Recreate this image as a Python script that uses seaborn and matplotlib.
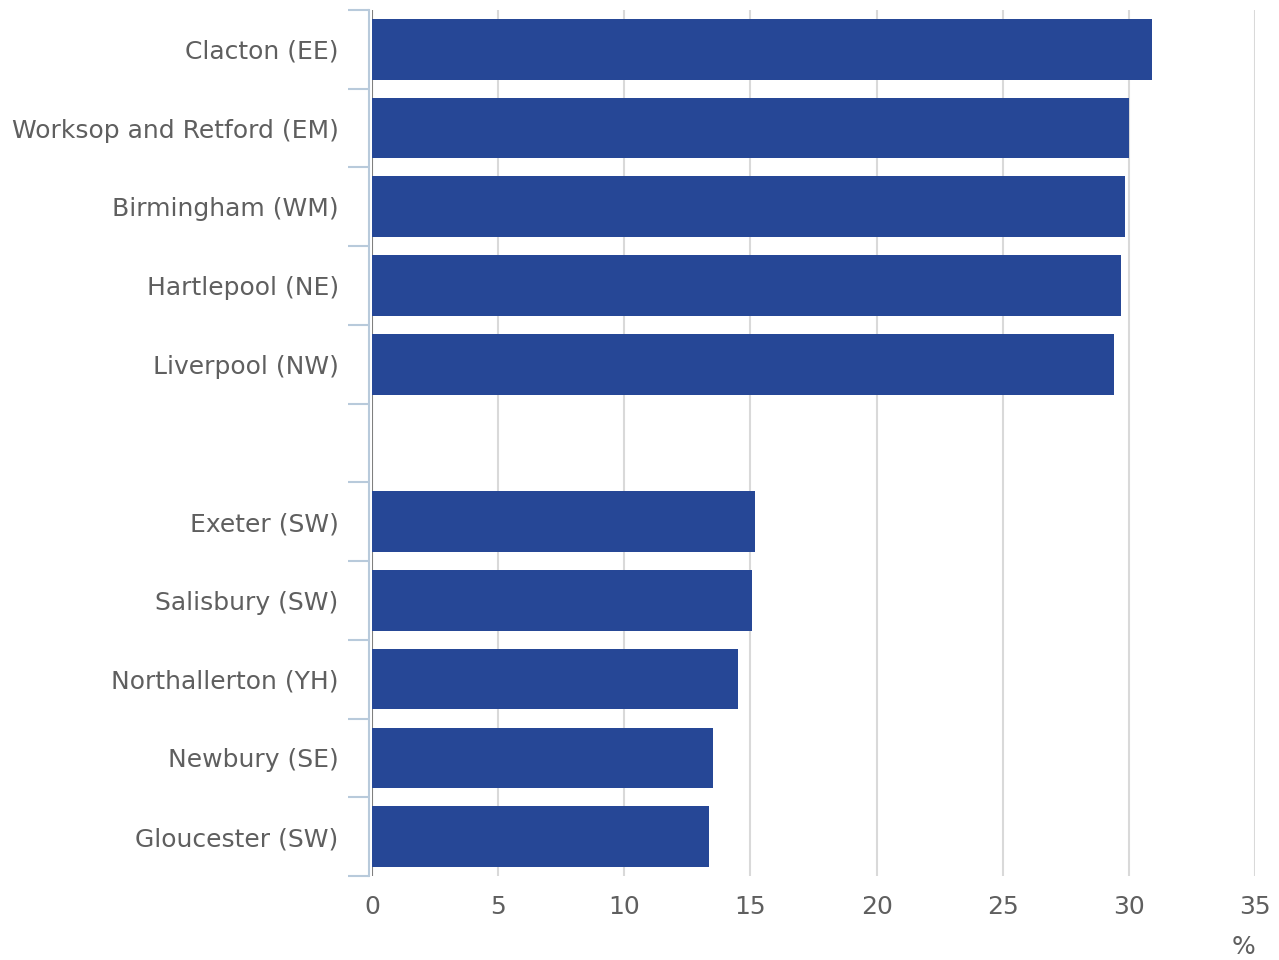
import numpy as np
import pandas as pd
import matplotlib
matplotlib.use("Agg")
import matplotlib.pyplot as plt
import seaborn as sns
from matplotlib.ticker import FixedLocator

# constituencies, top five then bottom five, with a blank slot between them
places = ['Clacton (EE)', 'Worksop and Retford (EM)', 'Birmingham (WM)',
          'Hartlepool (NE)', 'Liverpool (NW)', ' ',
          'Exeter (SW)', 'Salisbury (SW)', 'Northallerton (YH)',
          'Newbury (SE)', 'Gloucester (SW)']
values = [30.9, 30.0, 29.85, 29.7, 29.4, np.nan,
          15.2, 15.05, 14.5, 13.5, 13.35]
x_ticks = [0, 5, 10, 15, 20, 25, 30, 35]

sns.set_style('white')
plt.rcParams['font.family'] = ['DejaVu Sans']

df = pd.DataFrame({'place': places, 'value': values})

fig = plt.figure(figsize=(12.79, 9.6), dpi=100)
ax = fig.add_axes([0.2909, 0.0875, 0.6903, 0.9021])

text_col = '#5f5f5f'
blue_grey = '#b8cadb'
fs = 18

for x in x_ticks[1:]:
    ax.axvline(x, color='#d9d9d9', lw=1.5, zorder=0)
ax.axvline(0, color='#7f7f7f', lw=1.5, zorder=0)

sns.barplot(data=df, x='value', y='place', order=places, orient='h',
            color='#264796', saturation=1, width=0.77, ax=ax, zorder=2,
            edgecolor='none')

ax.set_xlim(0, 35)
ax.set_ylim(len(places) - 0.5, -0.5)
ax.set_xticks(x_ticks)
ax.set_xticklabels([str(x) for x in x_ticks])
ax.set_xlabel('')
ax.set_ylabel('')

ax.yaxis.set_minor_locator(FixedLocator(np.arange(-0.5, len(places), 1)))
ax.tick_params(axis='y', which='major', left=True, length=0, pad=22,
               labelsize=fs, labelcolor=text_col)
ax.tick_params(axis='y', which='minor', left=True, length=15, width=1.5,
               color=blue_grey, direction='out')
ax.tick_params(axis='x', length=0, pad=14, labelsize=fs, labelcolor=text_col)

for s in ['top', 'right', 'bottom']:
    ax.spines[s].set_visible(False)
ax.spines['left'].set_color(blue_grey)
ax.spines['left'].set_linewidth(1.5)
ax.spines['left'].set_position(('outward', 2))

fig.text(0.972, 0.006, '%', color=text_col, fontsize=fs, ha='center')

fig.savefig('out.png', dpi=100)
